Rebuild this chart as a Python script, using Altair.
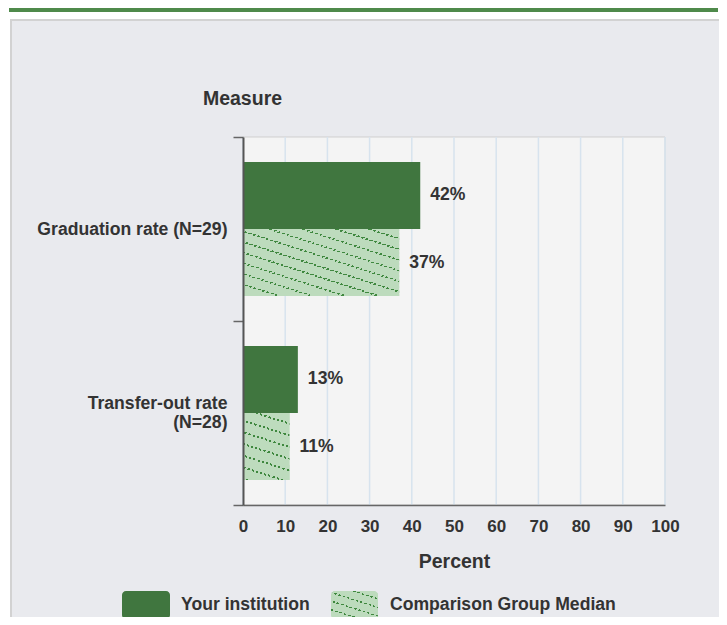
import math
import altair as alt
import pandas as pd

measures = ["Graduation rate (N=29)", "Transfer-out rate (N=28)"]
series = ["Your institution", "Comparison Group Median"]
your_vals = [42, 13]
comp_vals = [37, 11]
tick_values = [0, 10, 20, 30, 40, 50, 60, 70, 80, 90, 100]

W, H = 422, 368
DARK = "#40763f"
LIGHT = "#bddbbd"
STRIPE = "#3f883f"
TXT = "#333333"
FONT = "Liberation Sans"

rows = []
for m, a, b in zip(measures, your_vals, comp_vals):
    rows.append({"measure": m, "series": series[0], "value": a})
    rows.append({"measure": m, "series": series[1], "value": b})
df = pd.DataFrame(rows)


def stripe_stops(n, c_bg, c_fg, frac):
    stops = []
    for i in range(n):
        a = i / n
        b = (i + 1 - frac) / n
        c = (i + 1) / n
        stops += [
            {"offset": a, "color": c_bg},
            {"offset": b, "color": c_bg},
            {"offset": b, "color": c_fg},
            {"offset": c, "color": c_fg},
        ]
    return stops


def hatch(width_px, height_px, slope=0.32, spacing=11.0, frac=0.17):
    a = slope * width_px / height_px
    k = (1 + a) / (1 + a * a)
    n = max(2, round(height_px / spacing * (1 + a)))
    return alt.LinearGradient(gradient="linear", x1=1, y1=0, x2=1 - k * a, y2=k,
                              stops=stripe_stops(n, LIGHT, STRIPE, frac))


def dashes(width_px, height_px, slope=0.32, period=4.5):
    a = slope * width_px / height_px
    k = (1 + a) / (1 + a * a)
    length = math.hypot(width_px, a * height_px)
    n = max(2, round(k * length / period))
    return alt.LinearGradient(gradient="linear", x1=0, y1=0, x2=k, y2=k * a,
                              stops=stripe_stops(n, "rgba(189,219,189,0)", LIGHT, 0.5))


one = alt.Data(values=[{}])

x_enc = alt.X(
    "value:Q",
    scale=alt.Scale(domain=[0, 100], nice=False, zero=True),
    axis=alt.Axis(
        values=tick_values, grid=False, ticks=False, tickSize=0, labelFlush=False,
        labelFontSize=17, labelFontWeight="bold", labelColor=TXT, labelPadding=13,
        title="Percent", titleFontSize=19.5, titleFontWeight="bold", titleColor=TXT,
        titlePadding=18, domainColor="#666666", domainWidth=1.5, zindex=1,
    ),
)
y_enc = alt.Y(
    "measure:N",
    sort=measures,
    scale=alt.Scale(domain=measures, paddingInner=0, paddingOuter=0),
    axis=alt.Axis(
        title="Measure", titleAngle=0, titleX=-1, titleY=-39, titleAlign="center",
        titleBaseline="middle", titleFontSize=19.5, titleFontWeight="bold", titleColor=TXT,
        labelFontSize=17.6, labelFontWeight="bold", labelColor=TXT, labelPadding=6,
        labelLineHeight=19, labelLimit=300,
        labelExpr="datum.value == 'Transfer-out rate (N=28)' ? ['Transfer-out rate', '(N=28)'] : datum.label",
        labelOffset={"condition": {"test": "datum.value == 'Transfer-out rate (N=28)'", "value": -9.5},
                     "value": 0},
        tickSize=10, tickColor="#666666", tickBand="extent", tickWidth=1.5,
        domainColor="#555555", domainWidth=2, grid=False, zindex=1,
    ),
)
yoff = alt.YOffset("series:N", sort=series,
                   scale=alt.Scale(domain=series, paddingInner=0, paddingOuter=0.373))

panel = alt.Chart(one).mark_rect(fill="#e9eaee", stroke="#d2d2d2", strokeWidth=2).encode(
    x=alt.value(-232), x2=alt.value(478), y=alt.value(-117), y2=alt.value(530)
)
topbar = alt.Chart(one).mark_rect(fill="#4f8a4b").encode(
    x=alt.value(-234), x2=alt.value(475), y=alt.value(-131), y2=alt.value(-125)
)
plotbg = alt.Chart(one).mark_rect(fill="#f4f4f4", stroke="#cfcfcf", strokeWidth=1).encode(
    x=alt.value(0), x2=alt.value(W), y=alt.value(0), y2=alt.value(H)
)
grid = alt.Chart(pd.DataFrame({"value": tick_values})).mark_rule(
    color="#d7e3ee", strokeWidth=1.5
).encode(x=x_enc)

bars = alt.Chart(df).mark_bar(strokeWidth=0).encode(
    x=x_enc, y=y_enc, yOffset=yoff,
    color=alt.Color(
        "series:N", sort=series,
        scale=alt.Scale(domain=series, range=[DARK, LIGHT]),
        legend=alt.Legend(
            title=None, orient="none", legendX=-121, legendY=444, direction="horizontal",
            symbolType="square", symbolSize=2304, symbolStrokeWidth=0, symbolOpacity=0,
            labelFontSize=17.6, labelFontWeight="bold", labelColor=TXT, labelOffset=11,
            columnPadding=21, labelLimit=400,
        ),
    ),
)

band_px = H / len(measures)
bar_h = band_px / (2 + 2 * 0.373)
hatch_layers = []
for m, v in zip(measures, comp_vals):
    sub = df[(df.measure == m) & (df.series == series[1])]
    wpx = v / 100 * W
    hatch_layers.append(
        alt.Chart(sub).mark_bar(color=hatch(wpx, bar_h), strokeWidth=0).encode(
            x=x_enc, y=y_enc, yOffset=yoff)
    )
    hatch_layers.append(
        alt.Chart(sub).mark_bar(color=dashes(wpx, bar_h), strokeWidth=0).encode(
            x=x_enc, y=y_enc, yOffset=yoff)
    )

# legend swatches (drawn over the legend's invisible symbols)
sw_dark = alt.Chart(one).mark_rect(color=DARK, cornerRadius=4).encode(
    x=alt.value(-121), x2=alt.value(-73), y=alt.value(454), y2=alt.value(482))
sw_hatch = alt.Chart(one).mark_rect(color=hatch(47, 28, spacing=9), cornerRadius=4).encode(
    x=alt.value(88), x2=alt.value(135), y=alt.value(454), y2=alt.value(482))
sw_dash = alt.Chart(one).mark_rect(color=dashes(47, 28), cornerRadius=4).encode(
    x=alt.value(88), x2=alt.value(135), y=alt.value(454), y2=alt.value(482))

labels = alt.Chart(df).transform_calculate(label="datum.value + '%'").mark_text(
    align="left", baseline="middle", dx=10, fontSize=17.6, fontWeight="bold", color=TXT
).encode(x=x_enc, y=y_enc, yOffset=yoff, text="label:N")

chart = alt.layer(panel, topbar, plotbg, grid, bars, *hatch_layers, labels,
                  sw_dark, sw_hatch, sw_dash).properties(
    width=W, height=H,
    padding={"left": 235, "top": 129, "right": 54, "bottom": 112},
    autosize="none", background="white",
).configure_view(stroke=None).configure(font=FONT)

chart.save("out.html", embed_options={"renderer": "svg", "actions": False})
